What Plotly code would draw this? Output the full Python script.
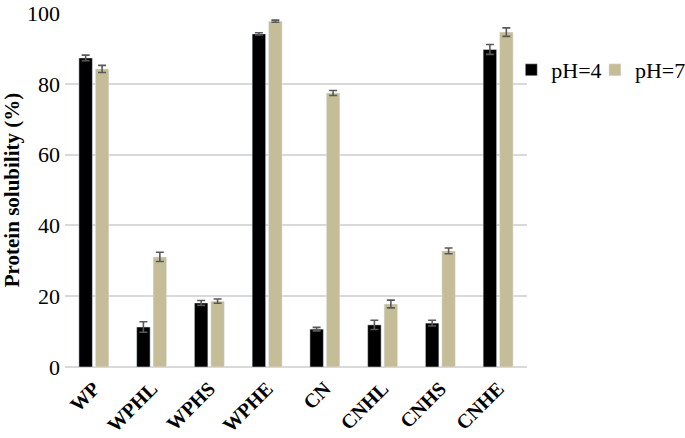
import plotly.graph_objects as go

samples = ["WP", "WPHL", "WPHS", "WPHE", "CN", "CNHL", "CNHS", "CNHE"]
ph4 = [87.3, 11.3, 18.1, 94.1, 10.7, 11.9, 12.4, 89.7]
ph4_err = [0.8, 1.5, 0.7, 0.3, 0.5, 1.3, 0.8, 1.4]
ph7 = [84.2, 31.1, 18.6, 97.7, 77.4, 17.8, 32.8, 94.6]
ph7_err = [1.0, 1.3, 0.6, 0.3, 0.7, 1.1, 0.8, 1.2]

font_family = "Liberation Serif, Times New Roman, serif"
err_style = dict(type="data", thickness=1.6, width=4, color="#595959")

fig = go.Figure()
fig.add_trace(go.Bar(
    x=samples, y=ph4, name="pH=4",
    marker=dict(color="#000000"),
    error_y=dict(array=ph4_err, **err_style),
    legend="legend",
))
fig.add_trace(go.Bar(
    x=samples, y=ph7, name="pH=7",
    marker=dict(color="#C4BD97"),
    error_y=dict(array=ph7_err, **err_style),
    legend="legend2",
))

legend_style = dict(
    orientation="h", y=0.839, xanchor="left", yanchor="middle",
    font=dict(size=22, family=font_family), itemwidth=30,
    bgcolor="rgba(0,0,0,0)",
)

fig.update_layout(
    width=685, height=438,
    margin=dict(l=65, r=158, t=13, b=71, autoexpand=False),
    paper_bgcolor="white", plot_bgcolor="white",
    barmode="group", bargap=0.43, bargroupgap=0.18,
    font=dict(family=font_family, size=22, color="black"),
    showlegend=True,
    legend=dict(x=0.966, **legend_style),
    legend2=dict(x=1.147, **legend_style),
)

fig.update_xaxes(
    tickangle=-45, automargin=False, ticklabelstandoff=5,
    tickfont=dict(size=20, family=font_family, weight="bold"),
    showgrid=False, showline=False, ticks="",
)
fig.update_yaxes(
    range=[0, 100], dtick=20, automargin=False, ticklabeloverflow="allow",
    tickfont=dict(size=22, family=font_family),
    showgrid=True, gridcolor="#D9D9D9", gridwidth=1.5,
    zeroline=True, zerolinecolor="#D9D9D9", zerolinewidth=1.5,
    showline=False, ticks="", ticklabelstandoff=4,
    title=dict(text="<b>Protein solubility (%)</b>", font=dict(size=21, family=font_family), standoff=6),
)

# drop the browser's default 8px body margin so the figure fills the window
fig.write_html(
    "out.html",
    config={"displayModeBar": False},
    post_script="document.body.style.margin = '0';",
)
